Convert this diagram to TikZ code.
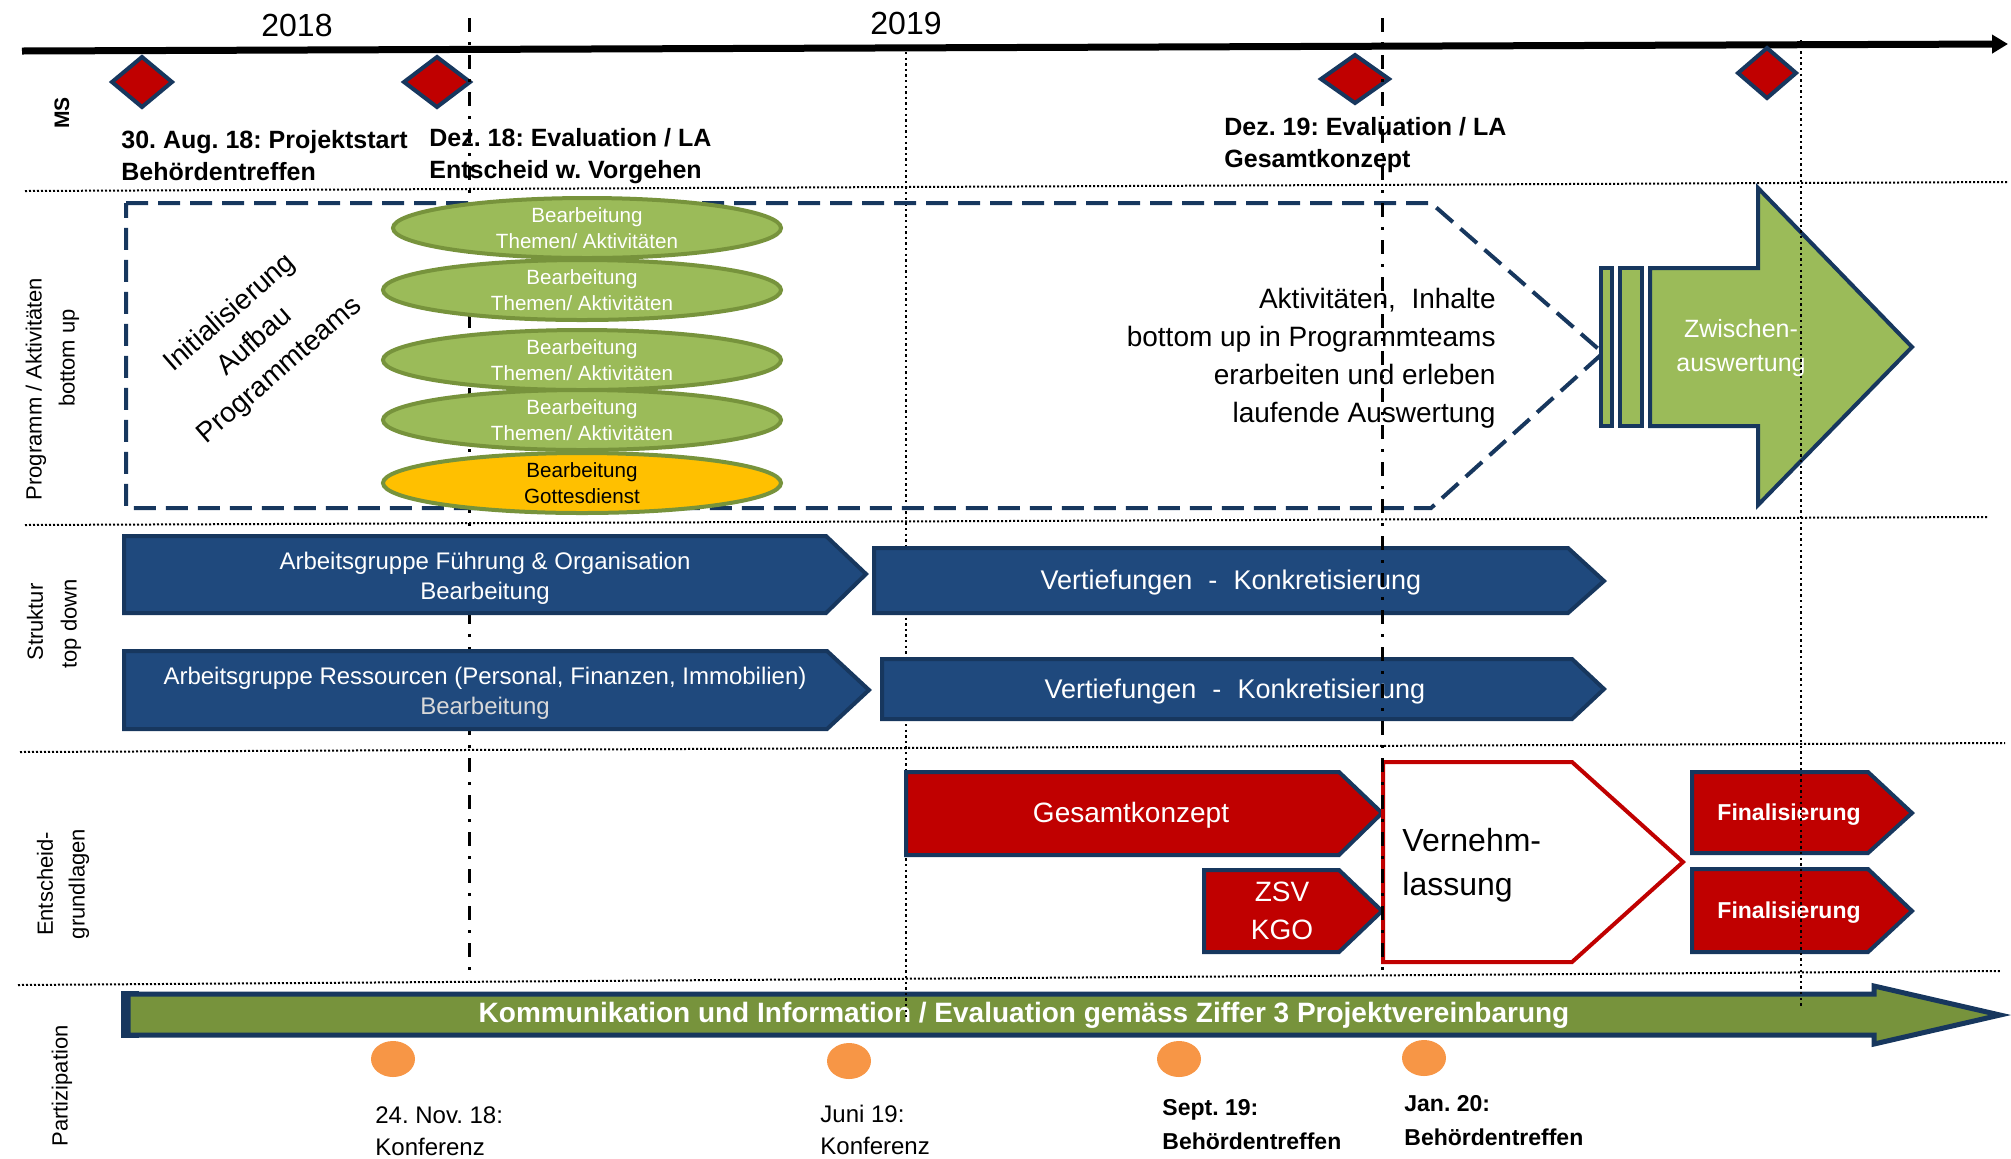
\documentclass[tikz,border=0pt]{standalone}
\usepackage{fontspec}
\setmainfont{Liberation Sans}
\usetikzlibrary{arrows.meta,shapes.geometric}
\definecolor{navy}{HTML}{17375E}
\definecolor{barblue}{HTML}{1F497D}
\definecolor{msred}{HTML}{C00000}
\definecolor{leaf}{HTML}{9BBB59}
\definecolor{olive}{HTML}{77933C}
\definecolor{amber}{HTML}{FFC000}
\definecolor{peach}{HTML}{F79646}
\definecolor{softgray}{HTML}{D9D9D9}
\frenchspacing
\begin{document}
\begin{tikzpicture}[x=0.5pt, y=-0.5pt,
  sepline/.style={black, line width=1pt, dash pattern=on 1pt off 1pt},
  vdots/.style={black, line width=1pt, dash pattern=on 1.2pt off 1.6pt},
  dashdot/.style={black, line width=1.5pt, dash pattern=on 7pt off 5pt on 1.5pt off 5pt},
  msmark/.style={fill=msred, draw=navy, line width=2pt, line join=miter},
  bluebar/.style={fill=barblue, draw=navy, line width=2pt, line join=miter},
  redbar/.style={fill=msred, draw=navy, line width=2pt, line join=miter},
  theme/.style={ellipse, draw=olive, line width=2pt, fill=leaf, inner sep=0pt,
    minimum width=199pt, minimum height=30pt, text=white, align=center,
    font=\fontsize{10.3}{13}\selectfont},
  lane/.style={rotate=90, font=\fontsize{11}{13}\selectfont},
  mslabel/.style={anchor=west, align=left, inner sep=0pt, font=\bfseries\fontsize{12.5}{16}\selectfont},
  evlabel/.style={anchor=west, align=left, inner sep=0pt, font=\fontsize{12}{16}\selectfont},
  evlabelb/.style={anchor=west, align=left, inner sep=0pt, font=\bfseries\fontsize{11.5}{17}\selectfont},
  onbar/.style={text=white, align=center, font=\fontsize{13.5}{19}\selectfont},
  year/.style={font=\fontsize{16}{18}\selectfont}]

\useasboundingbox (0,0) rectangle (2011,1158);

% lane separators
\draw[sepline] (25,191) -- (2008,182);
\draw[sepline] (25,525) -- (1987,517);
\draw[sepline] (20,752) -- (2005,743);
\draw[sepline] (18,985) -- (2000,971);

% time axis
\draw[line width=3.5pt, -{Triangle[length=8pt,width=9pt]}] (22,51) -- (2008,44);
\node[year] (y2018) at (297,25) {2018};
\node[year] (y2019) at (906,23) {2019};

% lane titles
\node[lane, font=\bfseries\fontsize{10.5}{12}\selectfont] (lms) at (62,113) {MS};
\node[lane] (lprog1) at (36,389) {Programm / Aktivitäten};
\node[lane] (lprog2) at (69,358) {bottom up};
\node[lane] (lstr1) at (35,622) {Struktur};
\node[lane] (lstr2) at (71,624) {top down};
\node[lane] (lent1) at (45,884) {Entscheid-};
\node[lane] (lent2) at (79,884) {grundlagen};
\node[lane] (lpart) at (62,1086) {Partizipation};

% communication arrow along the bottom
\fill[navy] (121,991) rectangle (139,1038);
\draw[fill=olive, draw=navy, line width=2.5pt, line join=miter]
  (128,994) -- (1874,994) -- (1874,986) -- (2000,1015) -- (1874,1044) -- (1874,1035) -- (128,1035) -- cycle;
\node[text=white, font=\bfseries\fontsize{14}{16}\selectfont] (komm) at (1024,1015)
  {Kommunikation und Information / Evaluation gemäss Ziffer 3 Projektvereinbarung};

% year grid lines
\draw[vdots] (906,52) -- (906,1017);

% milestones
\draw[msmark] (112,82) -- (142,57) -- (172,82) -- (142,107) -- cycle;
\draw[msmark] (404,82) -- (437,57) -- (470,82) -- (437,107) -- cycle;
\draw[msmark] (1321,79) -- (1355,55) -- (1389,79) -- (1355,103) -- cycle;
\draw[msmark] (1738,73) -- (1767,48) -- (1796,73) -- (1767,98) -- cycle;

\node[mslabel] (ms1) at (121,156) {30. Aug. 18: Projektstart\\Behördentreffen};
\node[mslabel] (ms2) at (429,156) {Dez. 18: Evaluation / LA\\Entscheid w. Vorgehen};
\node[mslabel] (ms3) at (1224,145) {Dez. 19: Evaluation / LA\\Gesamtkonzept};

% decision date Dec 2018
\draw[dashdot] (469,18) -- (469,980);

% programme lane
\draw[navy, line width=2pt, dash pattern=on 11pt off 5pt]
  (126,203) -- (1431,203) -- (1603,353) -- (1431,508) -- (126,508) -- cycle;
\node[rotate=41, align=center, font=\fontsize{14}{19}\selectfont] (init) at (255,342)
  {Initialisierung\\Aufbau\\Programmteams};

\node[theme, minimum width=194pt] (t1) at (587,228) {Bearbeitung\\Themen/ Aktivitäten};
\node[theme] (t2) at (582,290) {Bearbeitung\\Themen/ Aktivitäten};
\node[theme] (t3) at (582,360) {Bearbeitung\\Themen/ Aktivitäten};
\node[theme] (t4) at (582,420) {Bearbeitung\\Themen/ Aktivitäten};
\node[theme, fill=amber, text=black] (t5) at (582,483) {Bearbeitung\\Gottesdienst};

\node[anchor=east, align=right, inner sep=0pt, font=\fontsize{14}{19}\selectfont] (akt) at (1496,358)
  {Aktivitäten,~~Inhalte\\bottom up in Programmteams\\erarbeiten und erleben\\laufende Auswertung};

\draw[fill=leaf, draw=navy, line width=2pt] (1601,268) rectangle (1612,426);
\draw[fill=leaf, draw=navy, line width=2pt] (1620,268) rectangle (1642,426);
\draw[fill=leaf, draw=navy, line width=2pt, line join=miter]
  (1650,268) -- (1758,268) -- (1758,188) -- (1912,347) -- (1758,505) -- (1758,426) -- (1650,426) -- cycle;
\node[text=white, align=center, font=\fontsize{12.5}{17}\selectfont] (zw) at (1741,348)
  {Zwischen-\\auswertung};

% structure lane
\draw[bluebar] (124,536) -- (826,536) -- (866,574) -- (826,613) -- (124,613) -- cycle;
\node[onbar, font=\fontsize{12}{15}\selectfont] (ag1) at (485,578)
  {Arbeitsgruppe Führung \& Organisation\\Bearbeitung};
\draw[bluebar] (124,651) -- (827,651) -- (869,690) -- (827,729) -- (124,729) -- cycle;
\node[onbar, font=\fontsize{12}{15}\selectfont] (ag2) at (485,693)
  {Arbeitsgruppe Ressourcen (Personal, Finanzen, Immobilien)\\\textcolor{softgray}{Bearbeitung}};
\draw[bluebar] (874,548) -- (1568,548) -- (1604,581) -- (1568,613) -- (874,613) -- cycle;
\node[onbar] (vk1) at (1231,583) {Vertiefungen\hspace{0.6em}-\hspace{0.6em}Konkretisierung};
\draw[bluebar] (882,659) -- (1572,659) -- (1604,689) -- (1572,719) -- (882,719) -- cycle;
\node[onbar] (vk2) at (1235,692) {Vertiefungen\hspace{0.6em}-\hspace{0.6em}Konkretisierung};

% decision basis lane
\draw[redbar] (906,772) -- (1339,772) -- (1382,813) -- (1339,855) -- (906,855) -- cycle;
\node[onbar, font=\fontsize{14}{19}\selectfont] (gk) at (1131,815) {Gesamtkonzept};
\draw[redbar] (1204,870) -- (1339,870) -- (1382,911) -- (1339,952) -- (1204,952) -- cycle;
\node[onbar, font=\fontsize{14}{19}\selectfont] (zsv) at (1282,911) {ZSV\\KGO};
\draw[fill=white, draw=msred, line width=2pt, line join=miter]
  (1383,762) -- (1572,762) -- (1683,862) -- (1572,962) -- (1383,962) -- cycle;
\node[anchor=west, align=left, inner sep=0pt, font=\fontsize{16}{22}\selectfont] (vl) at (1402,865)
  {Vernehm-\\lassung};
\draw[redbar] (1692,772) -- (1868,772) -- (1912,813) -- (1868,853) -- (1692,853) -- cycle;
\node[text=white, font=\bfseries\fontsize{11.5}{14}\selectfont] (fin1) at (1789,815) {Finalisierung};
\draw[redbar] (1692,869) -- (1868,869) -- (1912,911) -- (1868,952) -- (1692,952) -- cycle;
\node[text=white, font=\bfseries\fontsize{11.5}{14}\selectfont] (fin2) at (1789,913) {Finalisierung};

% participation events
\fill[peach] (393,1059) ellipse [x radius=22, y radius=18];
\fill[peach] (849,1061) ellipse [x radius=22, y radius=18];
\fill[peach] (1179,1059) ellipse [x radius=22, y radius=18];
\fill[peach] (1424,1058) ellipse [x radius=22, y radius=18];
\node[evlabel] (ev1) at (375,1131) {24. Nov. 18:\\Konferenz};
\node[evlabel] (ev2) at (820,1130) {Juni 19:\\Konferenz};
\node[evlabelb] (ev3) at (1162,1125) {Sept. 19:\\Behördentreffen};
\node[evlabelb] (ev4) at (1404,1121) {Jan. 20:\\Behördentreffen};

% decision date Dec 2019 and year 2020 grid line
\draw[dashdot] (1382,18) -- (1382,978);
\draw[vdots] (1801,40) -- (1801,1007);

\end{tikzpicture}
\end{document}
